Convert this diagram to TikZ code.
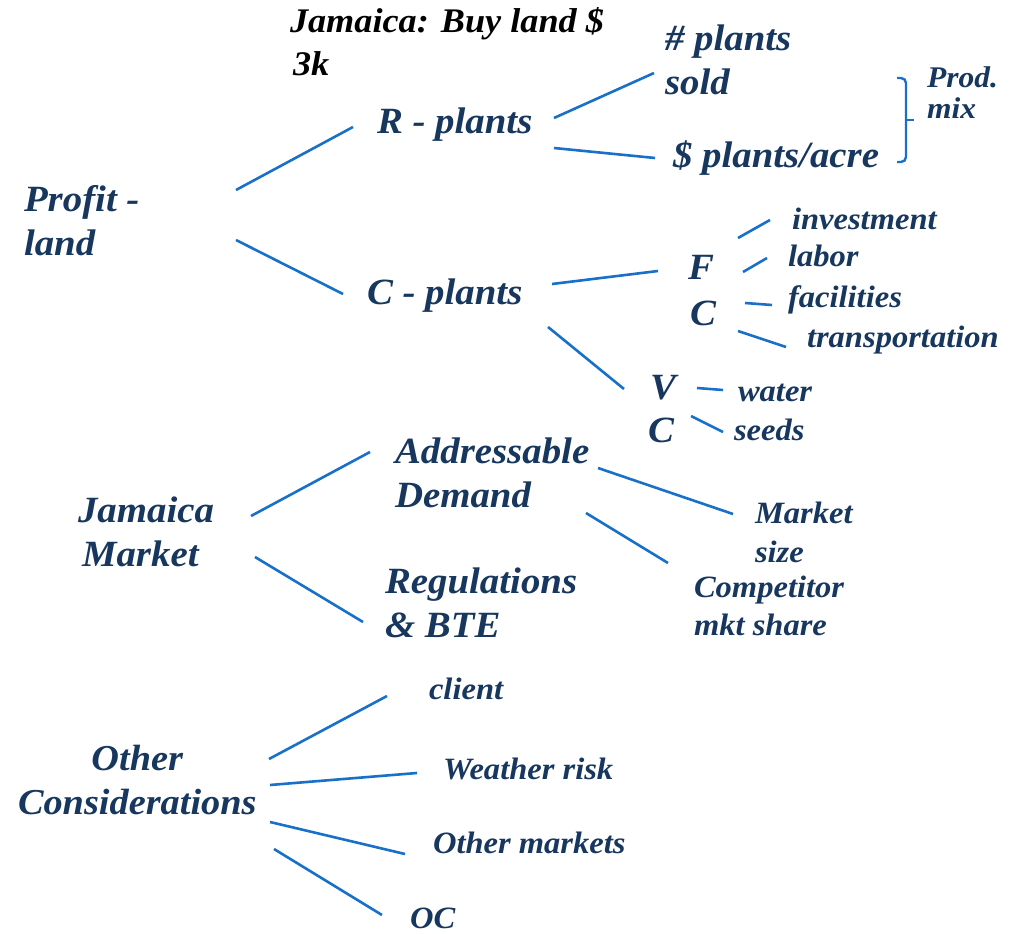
\documentclass[tikz,border=0pt]{standalone}
\usepackage{fontspec}
\setmainfont{Liberation Serif}[FakeStretch=1.05]
\definecolor{navy}{RGB}{23,55,94}
\definecolor{lineblue}{RGB}{24,112,200}
\tikzset{
  lbl/.style={inner sep=0pt, outer sep=0pt, anchor=base west, text=navy, align=left,
    font=\fontsize{37}{44}\selectfont\bfseries\itshape},
  sml/.style={lbl, font=\fontsize{31}{39}\selectfont\bfseries\itshape},
  ttl/.style={lbl, text=black, font=\fontsize{34.5}{43}\selectfont\bfseries\itshape},
  conn/.style={draw=lineblue, line width=2.6pt},
}
\begin{document}
\begin{tikzpicture}[x=1pt,y=-1pt]
\useasboundingbox (0,0) rectangle (1015,934);
% title (anchor = baseline of last line)
\node[ttl] (title) at (290,75) {Jamaica: Buy land \$\\\hspace*{3pt}3k};
% profit tree
\node[lbl] (profit) at (24,255) {Profit -\\land};
\node[lbl] (rpl) at (377,133) {R - plants};
\node[lbl] (cpl) at (367,304) {C - plants};
\node[lbl] (sold) at (665,95) {\# plants\\sold};
\node[lbl] (acre) at (673,167) {\$ plants/acre};
\node[sml, font=\fontsize{30}{31}\selectfont\bfseries\itshape] (mix) at (927,118) {Prod.\\mix};
\node[lbl, font=\fontsize{37}{46}\selectfont\bfseries\itshape] (fc) at (688,325) {F\\\hspace*{2pt}C};
\node[lbl, font=\fontsize{37}{43}\selectfont\bfseries\itshape] (vc) at (650,442) {V\\\hspace*{-2pt}C};
\node[sml] (inv) at (792,229) {investment};
\node[sml] (lab) at (788,266) {labor};
\node[sml] (fac) at (788,307) {facilities};
\node[sml] (tra) at (807,347) {transportation};
\node[sml] (wat) at (738,401) {water};
\node[sml] (see) at (734,440) {seeds};
% market tree
\node[lbl] (jam) at (78,566) {Jamaica\\\hspace*{4pt}Market};
\node[lbl] (addr) at (395,507) {Addressable\\Demand};
\node[lbl] (reg) at (385,637) {Regulations\\\&\ BTE};
\node[sml, font=\fontsize{31}{39}\selectfont\bfseries\itshape] (msz) at (755,562) {Market\\size};
\node[sml, font=\fontsize{31}{38}\selectfont\bfseries\itshape] (comp) at (694,635) {Competitor\\mkt share};
% other considerations
\node[lbl, align=center, font=\fontsize{36.5}{44}\selectfont\bfseries\itshape] (oth) at (18,814) {Other\\Considerations};
\node[sml] (cli) at (429,699) {client};
\node[sml] (wea) at (443,779) {Weather risk};
\node[sml] (om) at (433,853) {Other markets};
\node[sml] (oc) at (410,928) {OC};
% connector end points
\coordinate (p1) at (236,190); \coordinate (r1) at (353,127);
\coordinate (p2) at (236,240); \coordinate (c1) at (343,294);
\coordinate (r2) at (554,118); \coordinate (s1) at (654,73);
\coordinate (r3) at (554,148); \coordinate (a1) at (655,158);
\coordinate (c2) at (552,284); \coordinate (f1) at (658,271);
\coordinate (c3) at (548,327); \coordinate (v1) at (624,389);
\coordinate (f2) at (738,238); \coordinate (i1) at (770,220);
\coordinate (f3) at (743,272); \coordinate (l1) at (767,258);
\coordinate (f4) at (745,303); \coordinate (fa1) at (772,305);
\coordinate (f5) at (738,331); \coordinate (t1) at (786,347);
\coordinate (v2) at (697,388); \coordinate (w1) at (723,390);
\coordinate (v3) at (691,416); \coordinate (se1) at (723,432);
\coordinate (j1) at (251,516); \coordinate (ad1) at (370,452);
\coordinate (j2) at (255,557); \coordinate (re1) at (363,622);
\coordinate (ad2) at (598,468); \coordinate (m1) at (733,514);
\coordinate (ad3) at (586,513); \coordinate (co1) at (668,563);
\coordinate (o1) at (269,759); \coordinate (cl1) at (387,696);
\coordinate (o2) at (270,785); \coordinate (we1) at (417,773);
\coordinate (o3) at (270,822); \coordinate (om1) at (405,854);
\coordinate (o4) at (274,849); \coordinate (oc1) at (382,915);
\coordinate (bt) at (897,78); \coordinate (bm) at (906,120);
\coordinate (bb) at (897,162); \coordinate (btip) at (914,120);
% connectors
\foreach \a/\b in {p1/r1,p2/c1,r2/s1,r3/a1,c2/f1,c3/v1,f2/i1,f3/l1,f4/fa1,f5/t1,v2/w1,v3/se1,
  j1/ad1,j2/re1,ad2/m1,ad3/co1,o1/cl1,o2/we1,o3/om1,o4/oc1}
  \draw[conn] (\a) -- (\b);
% brace
\draw[conn, line width=2.4pt, rounded corners=5pt] (bt) -| (bm) |- (bb);
\draw[conn, line width=2.4pt] (bm) -- (btip);
\end{tikzpicture}
\end{document}
